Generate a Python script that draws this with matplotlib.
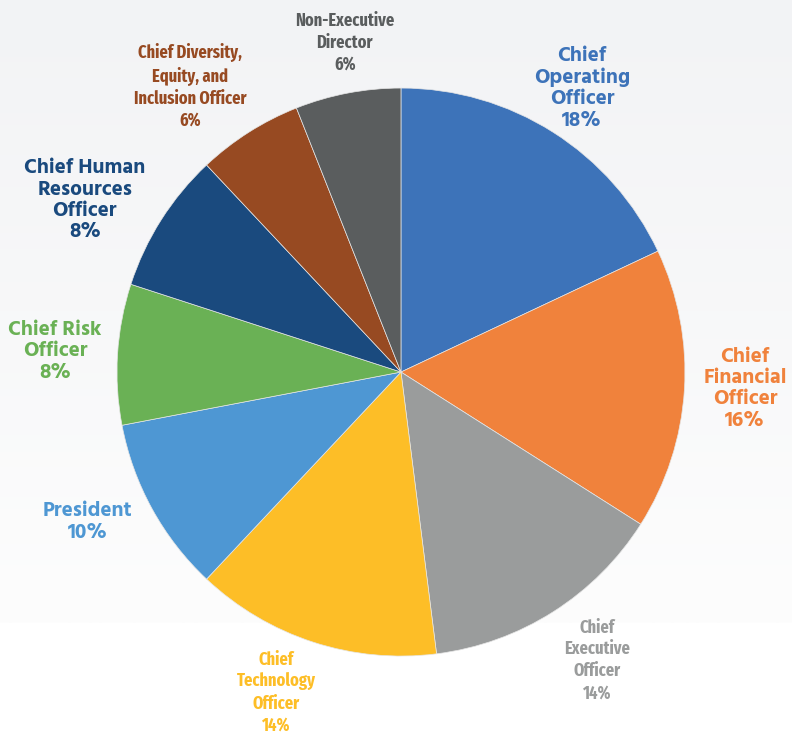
import numpy as np
import matplotlib.pyplot as plt
from matplotlib.colors import LinearSegmentedColormap

roles = ['Chief\nOperating\nOfficer', 'Chief\nFinancial\nOfficer', 'Chief\nExecutive\nOfficer',
         'Chief\nTechnology\nOfficer', 'President', 'Chief Risk\nOfficer',
         'Chief Human\nResources\nOfficer', 'Chief Diversity,\nEquity, and\nInclusion Officer',
         'Non-Executive\nDirector']
shares = [18, 16, 14, 14, 10, 8, 8, 6, 6]
colors = ['#3d73b9', '#f0823c', '#9a9c9c', '#fdbe27', '#4e97d3', '#6ab155',
          '#1a4a7e', '#974a22', '#5a5d5e']

# label placement: distance from centre (in radii) and angular nudge (deg)
label_r = [1.186, 1.213, 1.227, 1.211, 1.222, 1.220, 1.268, 1.250, 1.176]
label_nudge = [-0.1, 0.9, 1.8, -3.3, -3.3, 0.1, 3.8, 4.0, -1.1]
narrow = [False, False, True, True, False, False, False, True, True]

XL = (-1.412, 1.377)
YL = (-1.285, 1.310)

fig = plt.figure(figsize=(7.92, 7.37), dpi=100)
ax = fig.add_axes([0, 0, 1, 1])

# soft grey-to-white wash behind the pie
grad = np.linspace(0, 1, 256).reshape(-1, 1)
cmap = LinearSegmentedColormap.from_list('bg', ['#f2f3f5', '#fdfdfd'])
ax.imshow(grad, cmap=cmap, aspect='auto', extent=(XL[0], XL[1], -0.885, YL[1]),
          origin='upper', zorder=0)

wedges, _ = ax.pie(shares, colors=colors, startangle=90, counterclock=False,
                   radius=1.0, wedgeprops=dict(edgecolor='#e6e6e6', linewidth=0.5),
                   frame=True)
ax.set_xlim(*XL)
ax.set_ylim(*YL)
ax.set_aspect('auto')
ax.axis('off')

for w, role, pct, col, r, nd, nar in zip(wedges, roles, shares, colors,
                                         label_r, label_nudge, narrow):
    mid = np.deg2rad((w.theta1 + w.theta2) / 2 + nd)
    if nar:
        style = dict(family=['Fira Sans Extra Condensed', 'DejaVu Sans'], fontsize=12.8,
                     linespacing=1.3)
    else:
        style = dict(family=['Hind', 'DejaVu Sans'], fontsize=15, linespacing=1.15)
    ax.text(r * np.cos(mid), r * np.sin(mid), f'{role}\n{pct}%', ha='center', va='center',
            color=col, fontweight='bold', zorder=5, **style)

fig.savefig('out.png', dpi=100)
